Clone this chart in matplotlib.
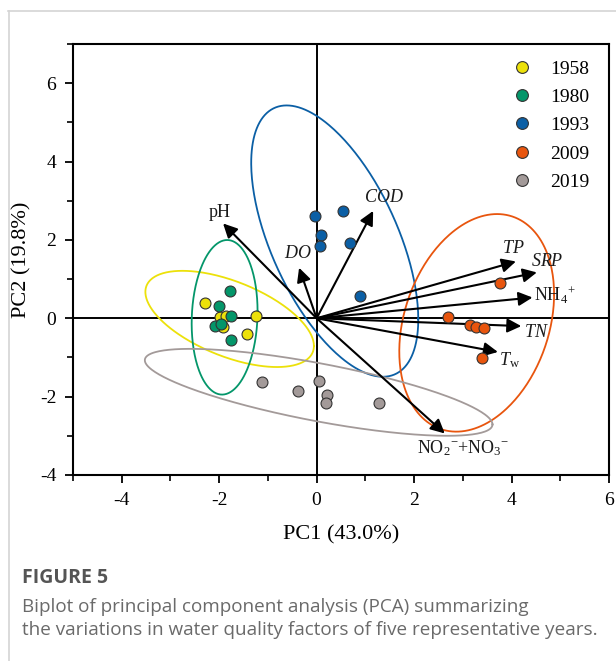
import numpy as np
import matplotlib
matplotlib.use("Agg")
import matplotlib.pyplot as plt
from matplotlib.lines import Line2D

plt.rcParams['font.family'] = ['Liberation Serif', 'DejaVu Serif']
plt.rcParams['mathtext.fontset'] = 'custom'
plt.rcParams['mathtext.rm'] = 'Liberation Serif'
plt.rcParams['mathtext.it'] = 'Liberation Serif:italic'

# ---------------- data ----------------
years = ['1958', '1980', '1993', '2009', '2019']
colors = ['#ECE10A', '#04966A', '#0B5FA5', '#E8550E', '#A39A99']

pc1_1958 = [-2.29, -1.24, -1.43, -1.98, -1.85, -1.92]
pc2_1958 = [0.40, 0.05, -0.40, 0.02, 0.05, -0.22]
pc1_1980 = [-1.77, -2.01, -1.75, -2.09, -1.96, -1.75]
pc2_1980 = [0.70, 0.31, 0.05, -0.20, -0.15, -0.56]
pc1_1993 = [-0.04, 0.55, 0.10, 0.06, 0.68, 0.88]
pc2_1993 = [2.60, 2.74, 2.12, 1.85, 1.93, 0.58]
pc1_2009 = [3.76, 2.70, 3.14, 3.28, 3.43, 3.40]
pc2_2009 = [0.91, 0.03, -0.16, -0.22, -0.25, -1.01]
pc1_2019 = [-1.12, -0.38, 0.04, 0.22, 0.20, 1.29]
pc2_2019 = [-1.62, -1.85, -1.60, -1.96, -2.15, -2.16]

pc1_groups = [pc1_1958, pc1_1980, pc1_1993, pc1_2009, pc1_2019]
pc2_groups = [pc2_1958, pc2_1980, pc2_1993, pc2_2009, pc2_2019]

variables = ['pH', 'DO', 'COD', 'TP', 'SRP', 'NH4', 'TN', 'Tw', 'NOx']
var_labels = ['pH', '$\\mathit{DO}$', '$\\mathit{COD}$', '$\\mathit{TP}$', '$\\mathit{SRP}$',
              'NH$_4$$^{+}$', '$\\mathit{TN}$', '$T_{\\mathrm{w}}$', 'NO$_2$$^{-}$+NO$_3$$^{-}$']
load_pc1 = [-1.92, -0.36, 1.16, 4.09, 4.52, 4.43, 4.20, 3.72, 2.63]
load_pc2 = [2.42, 1.29, 2.74, 1.45, 1.17, 0.53, -0.20, -0.86, -2.94]
label_pc1 = [-1.99, -0.38, 1.38, 4.03, 4.73, 4.46, 4.51, 3.96, 3.00]
label_pc2 = [2.71, 1.65, 3.08, 1.77, 1.45, 0.58, -0.37, -1.07, -3.32]
label_ha = ['center', 'center', 'center', 'center', 'center', 'left', 'center', 'center', 'center']

x_ticks = [-4, -2, 0, 2, 4, 6]
y_ticks = [-4, -2, 0, 2, 4, 6]
ellipse_scale = 4.5

# ---------------- figure ----------------
fig = plt.figure(figsize=(6.16, 6.61), dpi=100)
ax = fig.add_axes([0.1185, 0.2814, 0.8701, 0.652])

ax.axhline(0, color='black', lw=1.4, zorder=1)
ax.axvline(0, color='black', lw=1.4, zorder=1)

t = np.linspace(0, 2 * np.pi, 300)
for xs, ys, c in zip(pc1_groups, pc2_groups, colors):
    xs = np.asarray(xs); ys = np.asarray(ys)
    cov = np.cov(xs, ys)
    L = np.linalg.cholesky(cov)
    circ = np.vstack([np.cos(t), np.sin(t)])
    pts = L @ circ * ellipse_scale
    ax.plot(xs.mean() + pts[0], ys.mean() + pts[1], color=c, lw=1.3, zorder=2)

for x1, y1, lab, lx, ly, ha in zip(load_pc1, load_pc2, var_labels, label_pc1, label_pc2, label_ha):
    ax.annotate('', xy=(x1, y1), xytext=(0, 0),
                arrowprops=dict(arrowstyle='-|>', color='black', lw=1.5,
                                mutation_scale=21, shrinkA=0, shrinkB=0),
                zorder=3)
    ax.text(lx, ly, lab, ha=ha, va='center', fontsize=13, color='#1a1a1a', zorder=4)

for xs, ys, c in zip(pc1_groups, pc2_groups, colors):
    ax.scatter(xs, ys, s=62, color=c, edgecolors='#333333', linewidths=0.8, zorder=5)

ax.set_xlim(-5, 6)
ax.set_ylim(-4, 7)
ax.set_xticks(x_ticks)
ax.set_yticks(y_ticks)
ax.set_xticks(np.arange(-5, 6.5, 1), minor=True)
ax.set_yticks(np.arange(-4, 7.5, 1), minor=True)
ax.tick_params(which='major', direction='out', length=6, width=1.3, labelsize=14, pad=6)
ax.tick_params(which='minor', direction='out', length=4, width=1.2)
ax.tick_params(top=False, right=False)
for s in ax.spines.values():
    s.set_linewidth(1.5)
ax.set_xticklabels([str(v) for v in x_ticks])
ax.set_yticklabels([str(v) for v in y_ticks])
ax.set_xlabel('PC1 (43.0%)', fontsize=16, labelpad=12)
ax.set_ylabel('PC2 (19.8%)', fontsize=16, labelpad=6)

handles = [Line2D([], [], marker='o', linestyle='none', markersize=8.5,
                  markerfacecolor=c, markeredgecolor='#333333', markeredgewidth=0.8)
           for c in colors]
ax.legend(handles, years, loc='upper right', bbox_to_anchor=(0.985, 0.99), frameon=False,
          fontsize=14, labelspacing=0.55, handletextpad=0.45, borderaxespad=0.2)

# page frame and caption
fig.add_artist(Line2D([8 / 616, 1.0], [1 - 11 / 661, 1 - 11 / 661], color='#d4d4d4', lw=1.2))
fig.add_artist(Line2D([9 / 616, 9 / 616], [0, 1 - 11 / 661], color='#d4d4d4', lw=1.2))
fig.text(22 / 616, 1 - 578 / 661, 'FIGURE 5', fontsize=14, fontweight='bold',
         family=['Open Sans', 'DejaVu Sans'], color='#555555', va='center', ha='left')
fig.text(22 / 616, 1 - 607 / 661, 'Biplot of principal component analysis (PCA) summarizing',
         fontsize=13.6, family=['Open Sans', 'DejaVu Sans'], color='#6a6a6a', va='center', ha='left')
fig.text(22 / 616, 1 - 630 / 661, 'the variations in water quality factors of five representative years.',
         fontsize=13.6, family=['Open Sans', 'DejaVu Sans'], color='#6a6a6a', va='center', ha='left')

fig.savefig('out.png', dpi=100)
